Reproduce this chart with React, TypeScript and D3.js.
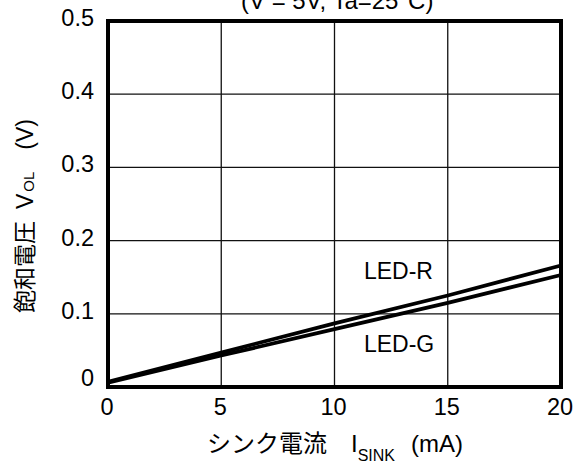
import React, { useRef, useEffect } from 'react'
import * as d3 from 'd3'

const currents = [0, 5, 10, 15, 20]
const ledR = [0.007, 0.047, 0.087, 0.125, 0.166]
const ledG = [0.006, 0.043, 0.079, 0.115, 0.153]
const xTicks = [0, 5, 10, 15, 20]
const yTicks = [0, 0.1, 0.2, 0.3, 0.4, 0.5]
const seriesNames = ['LED-R', 'LED-G']

const font = 'Arial, "Liberation Sans", "Noto Sans CJK JP", sans-serif'

const App = () => {
	const svgRef = useRef<SVGSVGElement | null>(null)

	const width = 584,
		height = 467
	const margin = { top: 21, right: 23, bottom: 80, left: 108 }

	const x = d3
		.scaleLinear()
		.domain([0, 20])
		.range([margin.left, width - margin.right])
	const y = d3
		.scaleLinear()
		.domain([0, 0.5])
		.range([height - margin.bottom, margin.top])

	useEffect(() => {
		const svg = d3.select(svgRef.current)
		svg.selectAll('*').remove()

		// grid
		svg
			.append('g')
			.selectAll('line')
			.data(xTicks.slice(1, -1))
			.enter()
			.append('line')
			.attr('x1', (d) => x(d))
			.attr('x2', (d) => x(d))
			.attr('y1', y(0))
			.attr('y2', y(0.5))
			.attr('stroke', '#111')
			.attr('stroke-width', 1.3)
		svg
			.append('g')
			.selectAll('line')
			.data(yTicks.slice(1, -1))
			.enter()
			.append('line')
			.attr('x1', x(0))
			.attr('x2', x(20))
			.attr('y1', (d) => y(d))
			.attr('y2', (d) => y(d))
			.attr('stroke', '#111')
			.attr('stroke-width', 1.3)

		// curves
		const line = d3
			.line<number>()
			.x((_, i) => x(currents[i]))
			.y((d) => y(d))
		;[ledR, ledG].forEach((s) => {
			svg
				.append('path')
				.attr('d', line(s))
				.attr('fill', 'none')
				.attr('stroke', '#000')
				.attr('stroke-width', 3.8)
		})

		// frame
		svg
			.append('rect')
			.attr('x', x(0))
			.attr('y', y(0.5))
			.attr('width', x(20) - x(0))
			.attr('height', y(0) - y(0.5))
			.attr('fill', 'none')
			.attr('stroke', '#000')
			.attr('stroke-width', 4)

		// tick labels
		svg
			.append('g')
			.selectAll('text')
			.data(xTicks)
			.enter()
			.append('text')
			.attr('x', (d) => x(d) - 1)
			.attr('y', y(0) + 28)
			.attr('text-anchor', 'middle')
			.attr('font-family', font)
			.attr('font-size', 23.5)
			.text((d) => d)
		svg
			.append('g')
			.selectAll('text')
			.data(yTicks)
			.enter()
			.append('text')
			.attr('x', x(0) - 14)
			.attr('y', (d) => y(d) + (d === 0 ? -1 : 5))
			.attr('text-anchor', 'end')
			.attr('font-family', font)
			.attr('font-size', 23.5)
			.text((d) => (d === 0 ? '0' : d3.format('.1f')(d)))

		// series labels
		const labelY = [0.148, 0.048]
		seriesNames.forEach((n, i) => {
			svg
				.append('text')
				.attr('x', x(11.3))
				.attr('y', y(labelY[i]))
				.attr('font-family', font)
				.attr('font-size', 23)
				.text(n)
		})

		// title (cut at top)
		svg
			.append('text')
			.attr('x', 241)
			.attr('y', 8.5)
			.attr('font-family', font)
			.attr('font-size', 24)
			.text('(V   = 5V, Ta=25°C)')

		// x axis title
		const xt = svg
			.append('text')
			.attr('x', 207)
			.attr('y', 452)
			.attr('font-family', font)
			.attr('font-size', 24)
		xt.append('tspan').text('シンク電流')
		xt.append('tspan').attr('dx', 24).text('I')
		xt.append('tspan').attr('font-size', 16).attr('dy', 9).text('SINK')
		xt.append('tspan').attr('dx', 16).attr('dy', -9).text('(mA)')

		// y axis title
		const yt = svg
			.append('text')
			.attr('transform', 'translate(33,313) rotate(-90)')
			.attr('font-family', font)
			.attr('font-size', 23)
		yt.append('tspan').text('飽和電圧')
		yt.append('tspan').attr('dx', 12).text('V')
		yt.append('tspan').attr('font-size', 15).attr('dy', 1).attr('dx', 2).text('OL')
		yt.append('tspan').attr('dx', 22).attr('dy', -1).text('(V)')
	}, [])

	return (
		<div style={{ position: 'absolute', left: 0, top: 0 }}>
			<svg ref={svgRef} width={width} height={height} style={{ display: 'block', background: '#fff' }}></svg>
		</div>
	)
}

export default App
